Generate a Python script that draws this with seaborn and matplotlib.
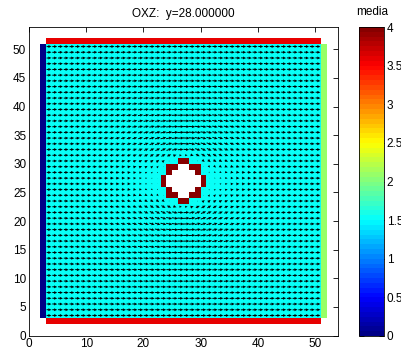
import numpy as np
import pandas as pd
import matplotlib
matplotlib.use("Agg")
import matplotlib.pyplot as plt
from matplotlib.colors import ListedColormap
import seaborn as sns

# ---- lattice and region values -------------------------------------------
n_cells = 54                     # unit cells along each axis, lower-left corners 0..53

media_inlet = 0.0                # left boundary column
media_wall = 3.6                 # top and bottom walls
media_outlet = 2.1               # right boundary column
media_fluid = 1.5                # fluid interior
media_solid = 4.0                # obstacle boundary cells

inlet_col = 2
outlet_col = 51
wall_rows = [2, 51]
fluid_cols = (3, 50)             # inclusive
fluid_rows = (3, 50)             # inclusive

# obstacle: boundary cells (columns) per row, and hollow interior cells per row
obstacle_rows = [23, 24, 25, 26, 27, 28, 29, 30]
obstacle_edge = [[26, 27], [24, 25, 28, 29], [24, 29], [23, 30],
                 [23, 30], [24, 29], [24, 25, 28, 29], [26, 27]]
obstacle_core = [[], [26, 27], [25, 26, 27, 28], [24, 25, 26, 27, 28, 29],
                 [24, 25, 26, 27, 28, 29], [25, 26, 27, 28], [26, 27], []]

# flow: free-stream speed, obstacle centre and effective radius
u_inf = 1.0
obs_center = (27.0, 27.0)
obs_radius = 4.2

x_ticks = [0, 10, 20, 30, 40, 50]
y_ticks = [0, 5, 10, 15, 20, 25, 30, 35, 40, 45, 50]
cbar_ticks = [0, 0.5, 1, 1.5, 2, 2.5, 3, 3.5, 4]
cbar_labels = ["0", "0.5", "1", "1.5", "2", "2.5", "3", "3.5", "4"]
title_text = "OXZ:  y=28.000000"
cbar_title = "media"

# ---- build the scalar field ---------------------------------------------
grid = np.full((n_cells, n_cells), np.nan)
r0, r1 = fluid_rows
c0, c1 = fluid_cols
grid[r0:r1 + 1, c0:c1 + 1] = media_fluid
grid[r0:r1 + 1, inlet_col] = media_inlet
grid[r0:r1 + 1, outlet_col] = media_outlet
for wr in wall_rows:
    grid[wr, c0:c1 + 1] = media_wall
solid = np.zeros_like(grid, dtype=bool)
for row, edge, core in zip(obstacle_rows, obstacle_edge, obstacle_core):
    for c in edge:
        grid[row, c] = media_solid
        solid[row, c] = True
    for c in core:
        grid[row, c] = np.nan
        solid[row, c] = True

media = pd.DataFrame(grid)

# ---- velocity at fluid cell centres: psi = U*Y*(1 - a^2/r^2)^2 ---------------
xs = np.arange(c0, c1 + 1) + 0.5
ys = np.arange(r0, r1 + 1) + 0.5
X, Y = np.meshgrid(xs, ys)
fluid = ~solid[r0:r1 + 1, c0:c1 + 1]
X, Y = X[fluid], Y[fluid]
dX = X - obs_center[0]
dY = Y - obs_center[1]
r2 = dX ** 2 + dY ** 2
s = np.minimum(obs_radius ** 2 / r2, 1.0)
g = (1 - s) ** 2
U = u_inf * (g + 4 * (1 - s) * s * dY ** 2 / r2)
V = -u_inf * 4 * (1 - s) * s * dX * dY / r2

# ---- 64-step jet palette (piecewise-linear ramps) ---------------------------
t = (np.arange(64) + 0.5) / 64
jet64 = ListedColormap(np.column_stack([
    np.clip(1.5 - np.abs(4 * t - 3), 0, 1),
    np.clip(1.5 - np.abs(4 * t - 2), 0, 1),
    np.clip(1.5 - np.abs(4 * t - 1), 0, 1),
]))

# ---- figure --------------------------------------------------------------
sns.set_theme(style="white")
plt.rcParams["font.family"] = ["Liberation Sans", "DejaVu Sans"]
plt.rcParams["font.size"] = 8

fig = plt.figure(figsize=(4.02, 3.56), dpi=100)
ax = fig.add_axes([29 / 402, 20 / 356, 309 / 402, 310 / 356])
cax = fig.add_axes([359 / 402, 20 / 356, 25 / 402, 309 / 356])

sns.heatmap(media, ax=ax, cmap=jet64, vmin=0, vmax=4, cbar=True, cbar_ax=cax,
            xticklabels=False, yticklabels=False)

ax.quiver(X, Y, U, V, angles="xy", scale_units="xy", scale=1 / 0.85,
          pivot="middle", color="black", width=0.0032, headwidth=3.0,
          headlength=3.2, headaxislength=3.0, minlength=0.3)

ax.set_xlim(0, n_cells)
ax.set_ylim(0, n_cells)
ax.set_aspect("equal")
ax.set_xticks(x_ticks)
ax.set_xticklabels([str(t) for t in x_ticks])
ax.set_yticks(y_ticks)
ax.set_yticklabels([str(t) for t in y_ticks])
ax.tick_params(direction="in", length=3.5, width=0.6, color="black",
               top=True, right=True, labelsize=8.5, pad=2, labelcolor="black")
for sp in ax.spines.values():
    sp.set_visible(True)
    sp.set_color("black")
    sp.set_linewidth(0.6)
ax.set_xlabel("")
ax.set_ylabel("")
ax.set_title(title_text, fontsize=8.5, pad=7, color="black")

cbar = ax.collections[0].colorbar
cbar.set_ticks(cbar_ticks)
cbar.set_ticklabels(cbar_labels)
cbar.outline.set_visible(True)
cbar.outline.set_linewidth(0.6)
cbar.outline.set_edgecolor("black")
cax.tick_params(direction="in", length=3.5, width=0.6, color="black",
                left=True, right=True, labelsize=8.5, pad=2, labelcolor="black")
fig.text(372 / 402, 1 - 12 / 356, cbar_title, ha="center", va="center",
         fontsize=8.5, color="black")

fig.savefig("out.png", dpi=100, facecolor="white")
